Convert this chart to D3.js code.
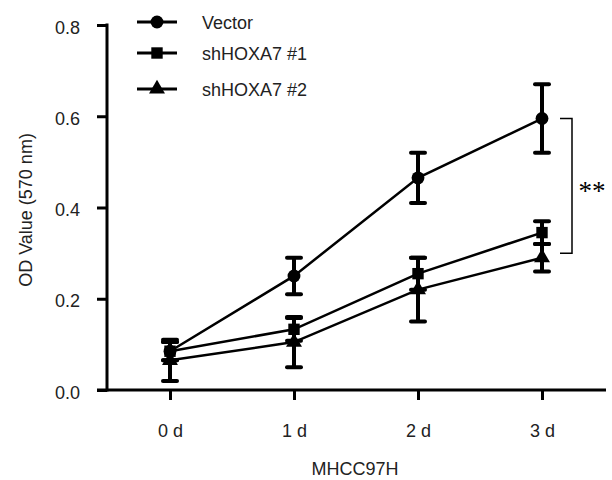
<!DOCTYPE html>
<html>
<head>
<meta charset="utf-8">
<script src="https://cdn.jsdelivr.net/npm/d3@7"></script>
<style>
  body { margin: 0; background: #fff; }
  svg { display: block; }
  text { font-family: "Liberation Sans", Arial, sans-serif; fill: #222; }
</style>
</head>
<body>
<svg width="612" height="480"></svg>
<script>
// chart data
const days = ["0 d", "1 d", "2 d", "3 d"];
const seriesNames = ["Vector", "shHOXA7 #1", "shHOXA7 #2"];
const vectorMean = [0.085, 0.25, 0.465, 0.595];
const vectorErr = [0.02, 0.04, 0.055, 0.075];
const sh1Mean = [0.085, 0.133, 0.255, 0.345];
const sh1Err = [0.02, 0.025, 0.035, 0.025];
const sh2Mean = [0.065, 0.105, 0.22, 0.29];
const sh2Err = [0.045, 0.055, 0.07, 0.03];
const yTicks = [0.0, 0.2, 0.4, 0.6, 0.8];

const svg = d3.select("svg");

// scales
const x = d3.scalePoint().domain(days).range([170, 542]);
const y = d3.scaleLinear().domain([0, 0.8]).range([390, 25]);

// axes
const yAxis = svg.append("g")
    .attr("transform", "translate(107,0)")
    .call(d3.axisLeft(y).tickValues(yTicks).tickFormat(d3.format(".1f")).tickSize(10).tickPadding(17));
yAxis.select(".domain").remove();
yAxis.append("line").attr("x1", 0).attr("x2", 0).attr("y1", 23.5).attr("y2", 391.5)
    .style("stroke", "#000").style("stroke-width", 3);
yAxis.selectAll(".tick line").style("stroke", "#000").style("stroke-width", 3);
yAxis.selectAll(".tick text").attr("dy", "0.45em").style("font-size", "18px").style("fill", "#222");

const xAxis = svg.append("g")
    .attr("transform", "translate(0,390)")
    .call(d3.axisBottom(x).tickSize(10).tickPadding(24));
xAxis.select(".domain").remove();
xAxis.append("line").attr("x1", 97).attr("x2", 606).attr("y1", 0).attr("y2", 0)
    .style("stroke", "#000").style("stroke-width", 3);
xAxis.selectAll(".tick line").style("stroke", "#000").style("stroke-width", 3);
xAxis.selectAll(".tick text").style("font-size", "18px").style("fill", "#222");

// axis titles
svg.append("text")
    .attr("transform", "translate(32,210) rotate(-90)")
    .attr("text-anchor", "middle")
    .style("font-size", "18px")
    .text("OD Value (570 nm)");
svg.append("text")
    .attr("x", 355).attr("y", 475)
    .attr("text-anchor", "middle")
    .style("font-size", "18px")
    .text("MHCC97H");

// series
const series = [
    { name: seriesNames[0], mean: vectorMean, err: vectorErr, shape: d3.symbolCircle, size: 130 },
    { name: seriesNames[1], mean: sh1Mean, err: sh1Err, shape: d3.symbolSquare, size: 130 },
    { name: seriesNames[2], mean: sh2Mean, err: sh2Err, shape: d3.symbolTriangle, size: 110 }
];

const line = d3.line().x((d, i) => x(days[i])).y(d => y(d));

series.forEach(s => {
    const g = svg.append("g");
    g.append("path")
        .attr("d", line(s.mean))
        .style("fill", "none")
        .style("stroke", "#000")
        .style("stroke-width", 2.5);

    const eb = g.selectAll(".eb")
        .data(s.mean.map((m, i) => ({ m: m, e: s.err[i], day: days[i] })))
        .enter().append("g");
    eb.append("line")
        .attr("x1", d => x(d.day)).attr("x2", d => x(d.day))
        .attr("y1", d => y(d.m - d.e)).attr("y2", d => y(d.m + d.e))
        .style("stroke", "#000").style("stroke-width", 4);
    eb.selectAll(".cap")
        .data(d => [d.m - d.e, d.m + d.e].map(v => ({ v: v, day: d.day })))
        .enter().append("line")
        .attr("x1", d => x(d.day) - 7).attr("x2", d => x(d.day) + 7)
        .attr("y1", d => y(d.v)).attr("y2", d => y(d.v))
        .style("stroke", "#000").style("stroke-width", 4).style("stroke-linecap", "round");

    g.selectAll(".pt")
        .data(s.mean)
        .enter().append("path")
        .attr("transform", (d, i) => `translate(${x(days[i])},${y(d)})`)
        .attr("d", d3.symbol().type(s.shape).size(s.size))
        .style("fill", "#000");
});

// legend
const legendY = [22, 53, 89];
series.forEach((s, i) => {
    const lg = svg.append("g").attr("transform", `translate(137,${legendY[i]})`);
    lg.append("line").attr("x1", 0).attr("x2", 40).attr("y1", 0).attr("y2", 0)
        .style("stroke", "#000").style("stroke-width", 3);
    lg.append("path").attr("transform", "translate(20,0)")
        .attr("d", d3.symbol().type(s.shape).size(s.size))
        .style("fill", "#000");
    lg.append("text").attr("x", 65).attr("y", 7)
        .style("font-size", "18px")
        .text(s.name);
});

// significance bracket
const bx = 572;
svg.append("path")
    .attr("d", `M${bx - 12},${y(vectorMean[3])}H${bx}V${y(0.3)}H${bx - 12}`)
    .style("fill", "none").style("stroke", "#000").style("stroke-width", 1.5);
svg.append("text")
    .attr("x", 592).attr("y", 200)
    .attr("text-anchor", "middle")
    .style("font-family", "'Liberation Serif', serif")
    .style("font-size", "27px")
    .style("fill", "#000")
    .text("**");
</script>
</body>
</html>
